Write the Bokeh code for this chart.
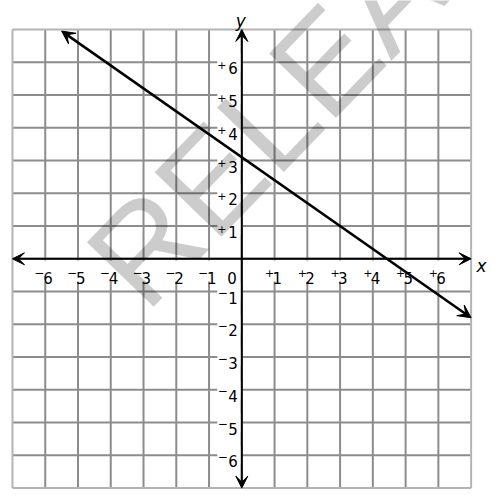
from bokeh.plotting import figure
from bokeh.models import Range1d, Arrow, VeeHead
from bokeh.core.properties import value
from bokeh.embed import file_html
from bokeh.resources import INLINE
import math

# ---------------- data ----------------
grid_values = [-7, -6, -5, -4, -3, -2, -1, 0, 1, 2, 3, 4, 5, 6, 7]
axis_min, axis_max = -7, 7
x_tick_values = [-6, -5, -4, -3, -2, -1, 1, 2, 3, 4, 5, 6]
y_tick_values = [-6, -5, -4, -3, -2, -1, 1, 2, 3, 4, 5, 6]
tick_digits = ["6", "5", "4", "3", "2", "1", "1", "2", "3", "4", "5", "6"]
tick_signs = ["\u2212", "\u2212", "\u2212", "\u2212", "\u2212", "\u2212", "+", "+", "+", "+", "+", "+"]
line_x = [-5.5, 7.0]
line_y = [6.95, -1.8]
watermark_text = "RELEASED"

# ---------------- layout ----------------
U = 32.76              # px per unit
X0, Y0 = 241.3, 258.3  # screen position of origin
W, H = 499, 502
xr = Range1d((0 - X0) / U, (W - X0) / U)
yr = Range1d((Y0 - H) / U, (Y0 - 0) / U)

p = figure(width=W, height=H, x_range=xr, y_range=yr, output_backend="svg",
           toolbar_location=None, min_border=0, x_axis_location=None,
           y_axis_location=None, background_fill_color="white",
           border_fill_color="white")
p.grid.visible = False
p.outline_line_color = None

FONT = value("DejaVu Sans")

# grid
inner = [v for v in grid_values if v not in (axis_min, axis_max)]
p.segment(x0=inner, y0=[axis_min] * len(inner), x1=inner, y1=[axis_max] * len(inner),
          line_color="#8c8c8c", line_width=2)
p.segment(x0=[axis_min] * len(inner), y0=inner, x1=[axis_max] * len(inner), y1=inner,
          line_color="#8c8c8c", line_width=2)
border = [axis_min, axis_max]
p.segment(x0=border, y0=[axis_min] * 2, x1=border, y1=[axis_max] * 2,
          line_color="#b4b4b4", line_width=2)
p.segment(x0=[axis_min] * 2, y0=border, x1=[axis_max] * 2, y1=border,
          line_color="#b4b4b4", line_width=2)

# white masks behind tick labels
zeros = [0] * len(x_tick_values)
p.rect(x=[v - 0.5 / U for v in x_tick_values], y=[-12.2 / U] * len(x_tick_values),
       width=22, height=21, width_units="screen", height_units="screen",
       fill_color="white", line_color=None)
p.rect(x=[-12.5 / U] * len(y_tick_values), y=y_tick_values,
       width=24, height=18, width_units="screen", height_units="screen",
       fill_color="white", line_color=None)

# axes with arrows
for (xs, ys, xe, ye) in [(axis_min, 0, axis_max, 0), (0, axis_min, 0, axis_max)]:
    p.add_layout(Arrow(x_start=xs, y_start=ys, x_end=xe, y_end=ye, line_width=2,
                       line_color="black",
                       start=VeeHead(size=12, fill_color="black", line_color="black", line_width=1),
                       end=VeeHead(size=12, fill_color="black", line_color="black", line_width=1)))

# x tick labels
p.text(x=x_tick_values, y=zeros, text=tick_digits, text_font=FONT, text_font_size="15px",
       text_align="left", text_baseline="alphabetic", x_offset=-2, y_offset=18.7, text_color="black")
xs_minus = [v for v, s in zip(x_tick_values, tick_signs) if s != "+"]
xs_plus = [v for v, s in zip(x_tick_values, tick_signs) if s == "+"]
p.text(x=xs_minus, y=[0] * len(xs_minus), text=["\u2212"] * len(xs_minus), text_font=FONT,
       text_font_size="12px", text_align="center", text_baseline="alphabetic",
       x_offset=-6, y_offset=13.5, text_color="black")
p.text(x=xs_plus, y=[0] * len(xs_plus), text=["+"] * len(xs_plus), text_font=FONT,
       text_font_size="11px", text_align="center", text_baseline="alphabetic",
       x_offset=-5, y_offset=14.5, text_color="black")

# y tick labels
p.text(x=[0] * len(y_tick_values), y=y_tick_values, text=tick_digits, text_font=FONT,
       text_font_size="15px", text_align="right", text_baseline="alphabetic",
       x_offset=-4, y_offset=6, text_color="black")
ys_minus = [v for v, s in zip(y_tick_values, tick_signs) if s != "+"]
ys_plus = [v for v, s in zip(y_tick_values, tick_signs) if s == "+"]
p.text(x=[0] * len(ys_minus), y=ys_minus, text=["\u2212"] * len(ys_minus), text_font=FONT,
       text_font_size="12px", text_align="center", text_baseline="alphabetic",
       x_offset=-19, y_offset=1, text_color="black")
p.text(x=[0] * len(ys_plus), y=ys_plus, text=["+"] * len(ys_plus), text_font=FONT,
       text_font_size="11px", text_align="center", text_baseline="alphabetic",
       x_offset=-20, y_offset=2.5, text_color="black")

# origin label
p.text(x=[0], y=[0], text=["0"], text_font=FONT, text_font_size="15px", text_align="right",
       text_baseline="alphabetic", x_offset=-5, y_offset=18.7, text_color="black")

# axis names
p.text(x=[axis_max], y=[0], text=["x"], text_font=FONT, text_font_size="17px",
       text_font_style="italic", text_align="left", text_baseline="alphabetic",
       x_offset=5.5, y_offset=6.7, text_color="black")
p.text(x=[0], y=[axis_max], text=["y"], text_font=FONT, text_font_size="17px",
       text_font_style="italic", text_align="center", text_baseline="alphabetic",
       x_offset=-1, y_offset=-8.6, text_color="black")

# the line with arrows
p.add_layout(Arrow(x_start=line_x[0], y_start=line_y[0], x_end=line_x[1], y_end=line_y[1],
                   line_width=2.5, line_color="black",
                   start=VeeHead(size=13, fill_color="black", line_color="black", line_width=1),
                   end=VeeHead(size=13, fill_color="black", line_color="black", line_width=1)))

# watermark
wm_x = (112 - X0) / U
wm_y = (Y0 - 282) / U
p.text(x=[wm_x], y=[wm_y], text=[watermark_text], text_font=value("Liberation Sans"),
       text_font_size="135px", angle=math.radians(46), text_align="left",
       text_baseline="alphabetic", text_color="black", text_alpha=0.2)

open("out.html", "w").write(file_html(p, INLINE))
